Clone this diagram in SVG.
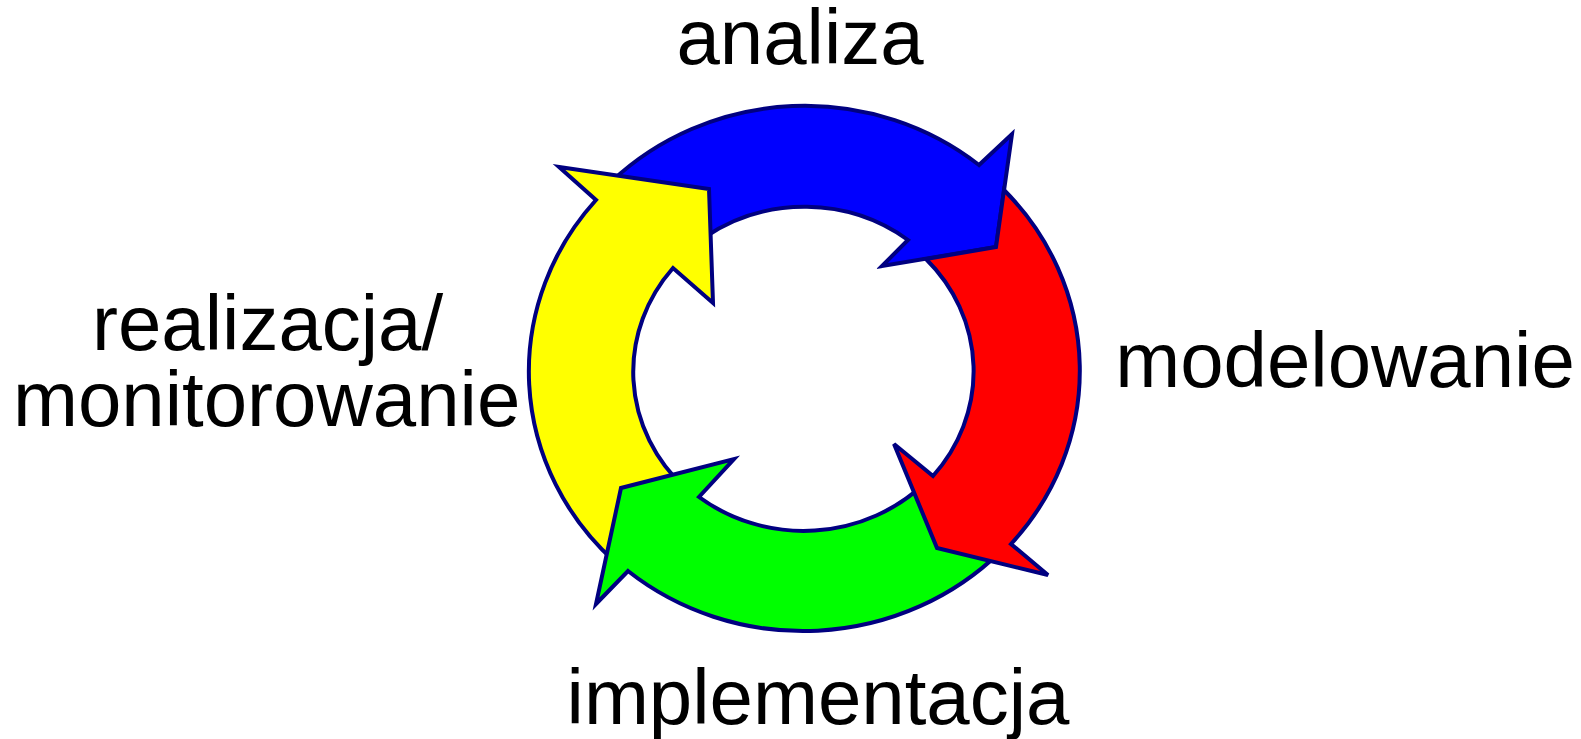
<svg xmlns="http://www.w3.org/2000/svg" width="1581" height="739" viewBox="0 0 1581 739">
<style>
.arr{stroke:#000080;stroke-width:4;stroke-linejoin:miter}
.lbl{font-family:"Liberation Sans",Arial,sans-serif;font-size:78px;fill:#000}
</style>
<rect width="1581" height="739" fill="#fff"/>
<g id="connectors">
<g id="arrow-blue"><path class="arr" fill="#0000ff" d="M 612,181 A 275 262 0 0 1 979,165 L 1012,134 L 996,247 L 882,266 L 908,240 A 171 162 0 0 0 705,237 Z"/></g>
<g id="arrow-yellow"><path class="arr" fill="#ffff00" d="M 615,562 A 275 262 0 0 1 596,200 L 559,167 L 709,189 L 713,303 L 673,268 A 171 162 0 0 0 685,488 Z"/></g>
<g id="arrow-green"><path class="arr" fill="#00ff00" d="M 1000,552 A 275 262 0 0 1 628,571 L 596,604 L 621,488 L 734,459 L 699,497 A 171 162 0 0 0 925,483 Z"/></g>
<g id="arrow-red"><path class="arr" fill="#ff0000" d="M 1004,190 A 275 262 0 0 1 1011,544 L 1048,575 L 937,548 L 894,444 L 933,476 A 171 162 0 0 0 926,259 L 996,247 Z"/></g>
</g>
<g id="node-analiza"><text class="lbl" x="800" y="64" text-anchor="middle">analiza</text></g>
<g id="node-modelowanie"><text class="lbl" x="1345" y="387" text-anchor="middle">modelowanie</text></g>
<g id="node-implementacja"><text class="lbl" x="818" y="724" text-anchor="middle">implementacja</text></g>
<g id="node-realizacja"><text class="lbl" x="92" y="350">realizacja/</text><text class="lbl" x="13" y="426">monitorowanie</text></g>
</svg>
